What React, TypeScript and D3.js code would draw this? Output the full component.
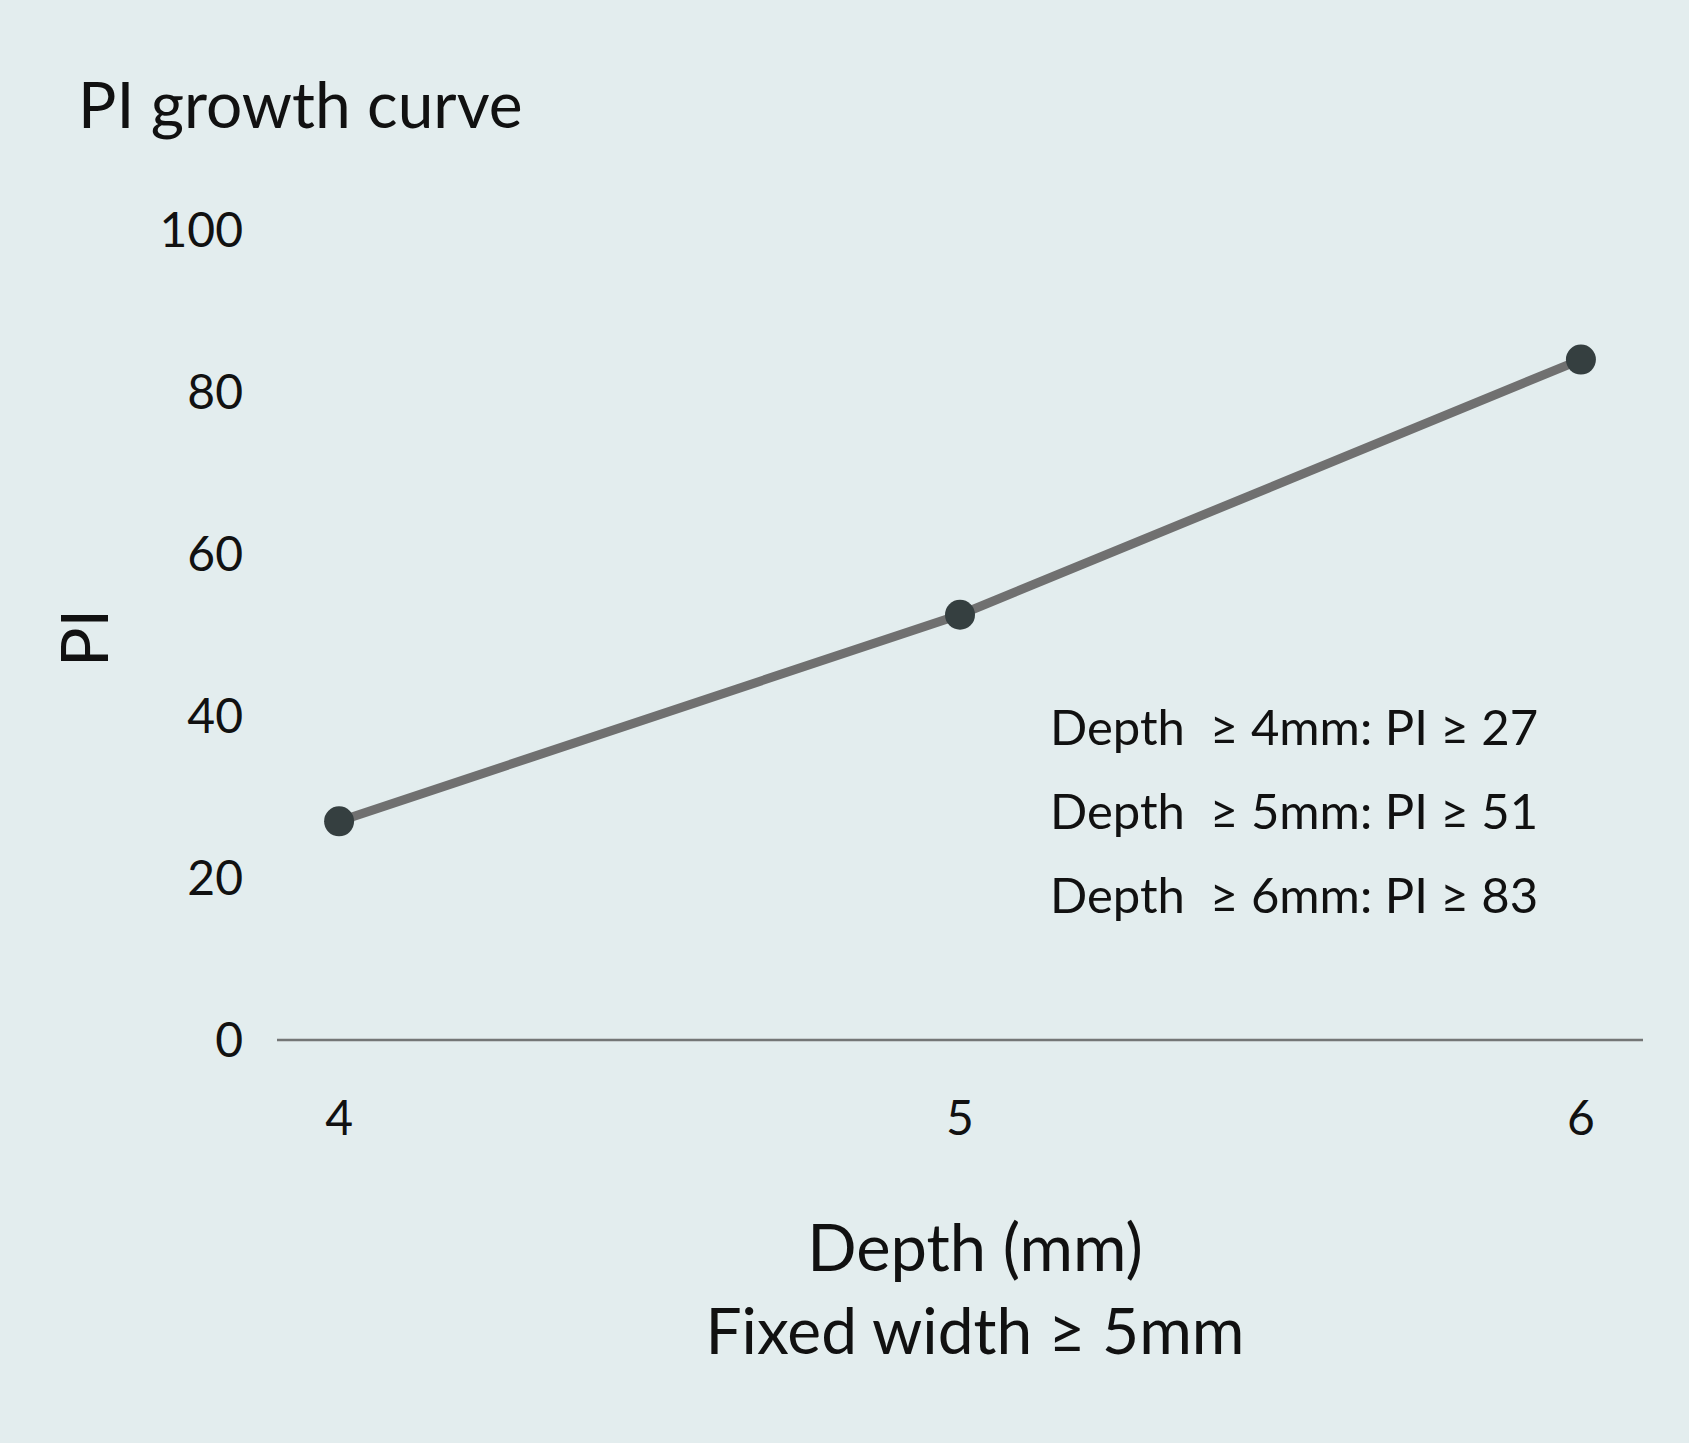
import React from "react";
import * as d3 from "d3";

const depths = [4, 5, 6];
const piValues = [27, 52.5, 84];
const yTicks = [0, 20, 40, 60, 80, 100];
const legendLines = [
  "Depth  \u2265 4mm: PI \u2265 27",
  "Depth  \u2265 5mm: PI \u2265 51",
  "Depth  \u2265 6mm: PI \u2265 83",
];

const W = 1689;
const H = 1443;
const FONT = "Lato, 'Noto Sans', sans-serif";

export default function App() {
  const x = d3.scaleLinear().domain([3.9, 6.1]).range([277, 1643]);
  const y = d3.scaleLinear().domain([0, 100]).range([1040, 230]);

  const points = depths.map((d, i) => ({ d, v: piValues[i] }));
  const line = d3
    .line<{ d: number; v: number }>()
    .x((p) => x(p.d))
    .y((p) => y(p.v));

  return (
    <svg
      width={W}
      height={H}
      style={{ position: "absolute", left: 0, top: 0, display: "block" }}
      fontFamily={FONT}
    >
      <rect width={W} height={H} fill="#e3edee" />

      {/* title */}
      <text x={78} y={128} fontSize={64} fill="#111">
        PI growth curve
      </text>

      {/* y tick labels */}
      {yTicks.map((t) => (
        <text
          key={t}
          x={243}
          y={y(t)}
          dy="0.36em"
          textAnchor="end"
          fontSize={48}
          fill="#111"
        >
          {t}
        </text>
      ))}

      {/* baseline */}
      <line
        x1={x(3.9)}
        x2={x(6.1)}
        y1={y(0)}
        y2={y(0)}
        stroke="#747676"
        strokeWidth={2.5}
      />

      {/* x tick labels */}
      {depths.map((d) => (
        <text
          key={d}
          x={x(d)}
          y={1118}
          dy="0.36em"
          textAnchor="middle"
          fontSize={48}
          fill="#111"
        >
          {d}
        </text>
      ))}

      {/* y axis title */}
      <text
        transform={`translate(84,638) rotate(-90)`}
        textAnchor="middle"
        dy="0.36em"
        fontSize={66}
        fill="#111"
      >
        PI
      </text>

      {/* x axis title */}
      <text x={975} y={1271} textAnchor="middle" fontSize={65} fill="#111">
        Depth (mm)
      </text>
      <text x={975} y={1354} textAnchor="middle" fontSize={64} fill="#111">
        Fixed width {"\u2265"} 5mm
      </text>

      {/* series */}
      <path d={line(points) ?? ""} fill="none" stroke="#707070" strokeWidth={9} />
      {points.map((p) => (
        <circle key={p.d} cx={x(p.d)} cy={y(p.v)} r={15} fill="#353f40" />
      ))}

      {/* annotation */}
      {legendLines.map((s, i) => (
        <text
          key={i}
          x={1050}
          y={745 + i * 84}
          fontSize={49}
          fill="#111"
          style={{ whiteSpace: "pre" }}
        >
          {s}
        </text>
      ))}
    </svg>
  );
}
